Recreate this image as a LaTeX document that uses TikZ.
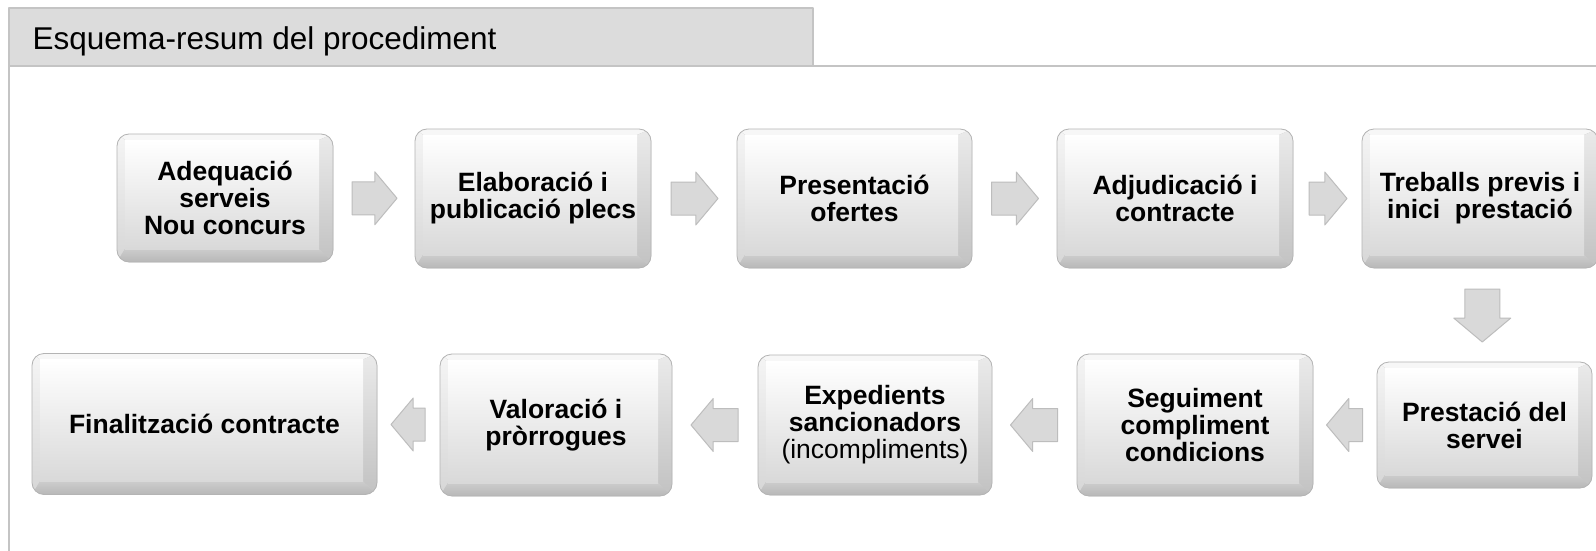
\documentclass[tikz,border=0pt]{standalone}
\usepackage{fontspec}
\setmainfont{Liberation Sans}
\usetikzlibrary{calc,shapes.arrows}
\definecolor{esqTab}{HTML}{DCDCDC}
\definecolor{esqRule}{HTML}{C4C4C4}
\definecolor{esqArrow}{HTML}{D9D9D9}
\definecolor{esqArrowLine}{HTML}{BDBDBD}
\definecolor{esqEdge}{HTML}{B4B4B4}

\begin{document}
\begin{tikzpicture}[x=1pt,y=-1pt,line cap=round,line join=round]
\path[use as bounding box,fill=white] (0,0) rectangle (1596,551);
\tikzset{frame/.style={draw=esqRule,line width=1.6pt},
  stepbox/.style={rounded corners=12pt,draw=esqEdge,line width=0.8pt,fill=black!20,inner sep=0pt,align=center,
    font=\bfseries\fontsize{26.5}{27}\selectfont,
    path picture={
      \coordinate (onw) at (path picture bounding box.north west);
      \coordinate (one) at (path picture bounding box.north east);
      \coordinate (ose) at (path picture bounding box.south east);
      \coordinate (osw) at (path picture bounding box.south west);
      \coordinate (inw) at ($(onw)+(8pt,-6pt)$);
      \coordinate (ine) at ($(one)+(-14pt,-6pt)$);
      \coordinate (ise) at ($(ose)+(-14pt,13pt)$);
      \coordinate (isw) at ($(osw)+(8pt,13pt)$);
      \fill[sharp corners,draw=none,black!3] (onw) -- (one) -- (ine) -- (inw) -- cycle;
      \fill[sharp corners,draw=none,top color=black!4,bottom color=black!16] (onw) -- (inw) -- (isw) -- (osw) -- cycle;
      \fill[sharp corners,draw=none,top color=black!8,bottom color=black!24] (one) -- (ose) -- (ise) -- (ine) -- cycle;
      \fill[sharp corners,draw=none,top color=black!20,bottom color=black!28] (osw) -- (isw) -- (ise) -- (ose) -- cycle;
      \fill[sharp corners,draw=none,top color=white,bottom color=black!15] (inw) rectangle (ise);
    }},
  flowarrow/.style={single arrow,draw=esqArrowLine,fill=esqArrow,line width=1pt,sharp corners,anchor=tail,
    inner xsep=0pt,inner ysep=16pt,single arrow head extend=10pt,single arrow tip angle=100}}

% capcalera
\path[fill=esqTab,draw=esqRule,line width=1.6pt] (9,8) rectangle (813,66);
\node[anchor=base west,font=\fontsize{31.5}{36}\selectfont] (titol) at (29,49.5) {Esquema-resum del procediment};
\draw[frame] (813,66) -- (1596,66);
\draw[frame] (9,66) -- (9,551);

% fila superior
\node[stepbox,minimum width=216,minimum height=128] (adeq) at (225,198) {Adequació\\serveis\\Nou concurs};
\node[stepbox,minimum width=236,minimum height=139] (elab) at (533,198.5) {Elaboració i\\publicació plecs};
\node[stepbox,minimum width=235,minimum height=139] (pres) at (854.5,198.5) {Presentació\\ofertes};
\node[stepbox,minimum width=236,minimum height=139] (adju) at (1175,198.5) {Adjudicació i\\contracte};
\node[stepbox,minimum width=236,minimum height=139] (treb) at (1480,198.5) {Treballs previs i\\inici\ \ prestació};

% fila inferior
\node[stepbox,minimum width=215,minimum height=126] (prse) at (1484.5,425) {Prestació del\\servei};
\node[stepbox,minimum width=236,minimum height=142] (segu) at (1195,425) {Seguiment\\compliment\\condicions};
\node[stepbox,minimum width=234,minimum height=140] (expe) at (875,425) {Expedients\\sancionadors\\{\mdseries(incompliments)}};
\node[stepbox,minimum width=232,minimum height=142] (valo) at (556,425) {Valoració i\\pròrrogues};
\node[stepbox,minimum width=345,minimum height=141] (fina) at (204.5,424) {Finalització contracte};

% fletxes (la cua a mig espai menys mitja llargada)
\node[flowarrow,minimum height=45] (f1) at ($(adeq.east)!0.5!(elab.west)+(-22.5,0)$) {};
\node[flowarrow,minimum height=47] (f2) at ($(elab.east)!0.5!(pres.west)+(-23.5,0)$) {};
\node[flowarrow,minimum height=47] (f3) at ($(pres.east)!0.5!(adju.west)+(-23.5,0)$) {};
\node[flowarrow,minimum height=38] (f4) at ($(adju.east)!0.5!(treb.west)+(-19,0)$) {};
\node[flowarrow,minimum height=53,inner ysep=17pt,single arrow head extend=11pt,rotate=-90] (f5) at ($(treb.south)!0.5!(prse.north)+(0,-26.5)$) {};
\node[flowarrow,minimum height=36,rotate=180] (f6) at ($(prse.west)!0.5!(segu.east)+(18,0)$) {};
\node[flowarrow,minimum height=47,rotate=180] (f7) at ($(segu.west)!0.5!(expe.east)+(23.5,0)$) {};
\node[flowarrow,minimum height=47,rotate=180] (f8) at ($(expe.west)!0.5!(valo.east)+(23.5,0)$) {};
\node[flowarrow,minimum height=34,rotate=180] (f9) at ($(valo.west)!0.5!(fina.east)+(17,0)$) {};
\end{tikzpicture}
\end{document}
